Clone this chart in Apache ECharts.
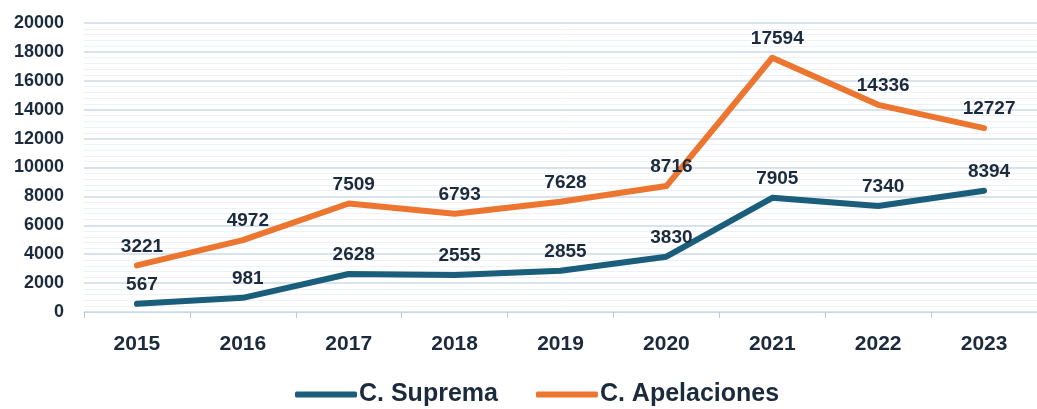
<!DOCTYPE html>
<html>
<head>
<meta charset="utf-8">
<script src="https://cdn.jsdelivr.net/npm/echarts@6/dist/echarts.min.js"></script>
<style>
  html, body { margin: 0; padding: 0; background: #fff; }
  #main { width: 1037px; height: 409px; }
</style>
</head>
<body>
<div id="main"></div>
<script>
var years = ['2015', '2016', '2017', '2018', '2019', '2020', '2021', '2022', '2023'];
var suprema = [567, 981, 2628, 2555, 2855, 3830, 7905, 7340, 8394];
var apelaciones = [3221, 4972, 7509, 6793, 7628, 8716, 17594, 14336, 12727];

var textColor = '#1c2a3d';
var font = '"Liberation Sans", Arial, sans-serif';
var chart = echarts.init(document.getElementById('main'));

// etiquetas de valor encima de cada punto
var labelStyle = {
    show: true,
    position: 'top',
    distance: 9,
    offset: [5, 0],
    color: textColor,
    fontFamily: font,
    fontWeight: 'bold',
    fontSize: 19
};

chart.setOption({
    animation: false,
    textStyle: { fontFamily: font },
    grid: { left: 84, top: 23, width: 966, bottom: 97, containLabel: false },
    legend: {
        top: 377,
        left: 290,
        itemWidth: 62,
        itemHeight: 6,
        itemGap: 38,
        icon: 'roundRect',
        textStyle: { color: textColor, fontWeight: 'bold', fontSize: 25, fontFamily: font, padding: [0, 0, 0, -3] },
        data: ['C. Suprema', 'C. Apelaciones']
    },
    xAxis: {
        type: 'category',
        data: years,
        axisLine: { lineStyle: { color: '#c9d8e8', width: 1 } },
        axisTick: { show: true, lineStyle: { color: '#b9c9da' }, length: 6 },
        axisLabel: { color: textColor, fontWeight: 'bold', fontSize: 21, margin: 22, fontFamily: font }
    },
    yAxis: {
        type: 'value',
        min: 0,
        max: 20000,
        interval: 2000,
        axisLine: { show: false },
        axisTick: { show: false },
        axisLabel: {
            color: textColor, fontWeight: 'bold', fontSize: 18, margin: 20, fontFamily: font,
            formatter: function (v) { return String(v); }
        },
        splitLine: { lineStyle: { color: '#cbdae9', width: 1.5 } },
        minorTick: { show: false, splitNumber: 5 },
        minorSplitLine: { show: true, lineStyle: { color: '#ecf2f8', width: 1 } }
    },
    series: [
        {
            name: 'C. Suprema',
            type: 'line',
            data: suprema,
            symbol: 'circle',
            symbolSize: 1,
            showSymbol: true,
            color: '#1b5e7b',
            lineStyle: { width: 6, cap: 'round', join: 'round' },
            label: labelStyle
        },
        {
            name: 'C. Apelaciones',
            type: 'line',
            data: apelaciones,
            symbol: 'circle',
            symbolSize: 1,
            showSymbol: true,
            color: '#ec7630',
            lineStyle: { width: 6, cap: 'round', join: 'round' },
            label: labelStyle
        }
    ]
});
</script>
</body>
</html>
